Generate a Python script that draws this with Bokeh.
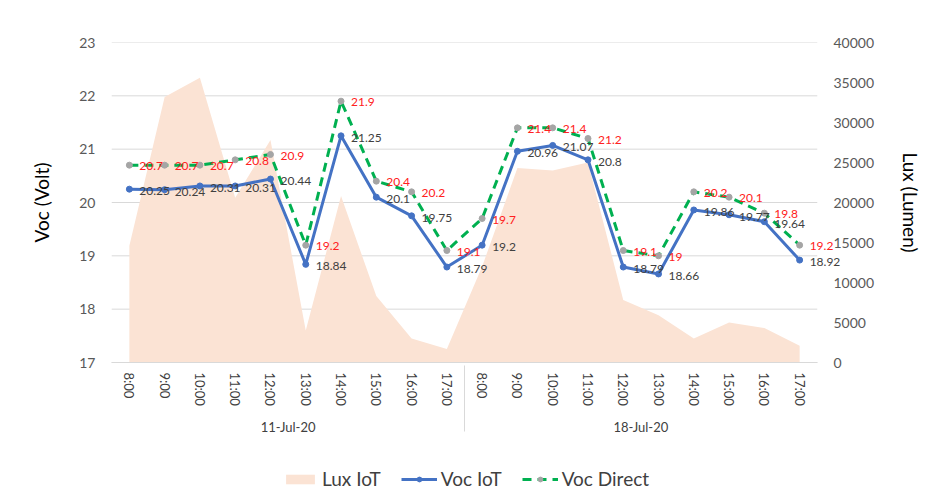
from bokeh.plotting import figure
from bokeh.layouts import column
from bokeh.core.properties import value
from bokeh.models import (FactorRange, Range1d, LinearAxis, Legend, LegendItem,
                          ColumnDataSource, LabelSet, FixedTicker)
from bokeh.embed import file_html
from bokeh.resources import INLINE

dates = ["11-Jul-20", "18-Jul-20"]
hours = ["8:00", "9:00", "10:00", "11:00", "12:00", "13:00", "14:00", "15:00", "16:00", "17:00"]
lux_iot = [14600, 33200, 35600, 20600, 27800, 4000, 20800, 8300, 3000, 1700,
           12000, 24300, 24000, 25000, 7800, 5900, 3000, 5000, 4300, 2100]
voc_iot = [20.25, 20.24, 20.31, 20.31, 20.44, 18.84, 21.25, 20.1, 19.75, 18.79,
           19.2, 20.96, 21.07, 20.8, 18.79, 18.66, 19.86, 19.77, 19.64, 18.92]
voc_direct = [20.7, 20.7, 20.7, 20.8, 20.9, 19.2, 21.9, 20.4, 20.2, 19.1,
              19.7, 21.4, 21.4, 21.2, 19.1, 19.0, 20.2, 20.1, 19.8, 19.2]
left_ticks = [17, 18, 19, 20, 21, 22, 23]
right_ticks = [0, 5000, 10000, 15000, 20000, 25000, 30000, 35000, 40000]

FONT = "Lato"
AREA_C, IOT_C, DIR_C, DIR_M = "#FBE3D4", "#4472C4", "#00B050", "#A5A5A5"
factors = [(d, h) for d in dates for h in hours]
n = len(factors)

src = ColumnDataSource(dict(
    x=factors, lux=lux_iot, iot=voc_iot, direct=voc_direct,
    iot_t=[f"{v:g}" for v in voc_iot], dir_t=[f"{v:g}" for v in voc_direct],
))
# horizontal gridlines spanning only the category band (first to last category edge)
grid_src = ColumnDataSource(dict(
    x0=[factors[0] + (-0.5,)] * len(left_ticks),
    x1=[factors[-1] + (0.5,)] * len(left_ticks),
    y=left_ticks,
))

xr = FactorRange(*factors, group_padding=0, factor_padding=0,
                 range_padding=0.8, range_padding_units="absolute")

# range padding leaves room in the frame for the data labels of the last category
p = figure(frame_width=762, frame_height=320, output_backend="svg", toolbar_location=None,
           x_range=xr, y_range=Range1d(17, 23),
           min_border_left=83, min_border_right=80, min_border_top=42, min_border_bottom=95)
p.extra_y_ranges = {"lux": Range1d(0, 40000)}
p.outline_line_color = None
p.xgrid.grid_line_color = None
p.ygrid.grid_line_color = None

p.segment(x0="x0", y0="y", x1="x1", y1="y", source=grid_src, line_color="#d9d9d9", line_width=1)
p.varea(x="x", y1=0, y2="lux", source=src, y_range_name="lux", fill_color=AREA_C)
p.line("x", "iot", source=src, line_color=IOT_C, line_width=3)
p.scatter("x", "iot", source=src, size=6, color=IOT_C)
p.line("x", "direct", source=src, line_color=DIR_C, line_width=3, line_dash="9 6")
p.scatter("x", "direct", source=src, size=6, color=DIR_M)

p.add_layout(LabelSet(x="x", y="iot", text="iot_t", source=src, x_offset=10, y_offset=-2,
                      text_baseline="middle", text_font=value(FONT), text_font_size="12px",
                      text_color="#404040"))
p.add_layout(LabelSet(x="x", y="direct", text="dir_t", source=src, x_offset=10, y_offset=-1,
                      text_baseline="middle", text_font=value(FONT), text_font_size="12px",
                      text_color="#FF2020"))

# left axis
ya = p.yaxis[0]
ya.ticker = FixedTicker(ticks=left_ticks)
ya.axis_label = "Voc (Volt)"
ya.axis_line_color = None
ya.major_tick_line_color = None
ya.minor_tick_line_color = None
ya.major_tick_out = 0
ya.major_tick_in = 0
ya.major_label_text_font = FONT
ya.major_label_text_font_size = "14px"
ya.major_label_text_color = "#595959"
ya.major_label_standoff = -12
ya.axis_label_text_font = FONT
ya.axis_label_text_font_size = "19px"
ya.axis_label_text_font_style = "normal"
ya.axis_label_text_color = "#000000"
ya.axis_label_standoff = 23

# right axis
ra = LinearAxis(y_range_name="lux", ticker=FixedTicker(ticks=right_ticks), axis_label="Lux (Lumen)")
ra.axis_line_color = None
ra.major_tick_line_color = None
ra.minor_tick_line_color = None
ra.major_tick_out = 0
ra.major_tick_in = 0
ra.major_label_text_font = FONT
ra.major_label_text_font_size = "14px"
ra.major_label_text_color = "#595959"
ra.major_label_standoff = -12
ra.axis_label_text_font = FONT
ra.axis_label_text_font_size = "19px"
ra.axis_label_text_font_style = "normal"
ra.axis_label_text_color = "#000000"
ra.axis_label_standoff = 22
p.add_layout(ra, "right")

# bottom axis
xa = p.xaxis[0]
xa.bounds = (0, n)
xa.major_label_orientation = "vertical"
xa.major_label_text_font = FONT
xa.major_label_text_font_size = "13px"
xa.major_label_text_color = "#404040"
xa.major_label_standoff = 10
xa.major_tick_out = 0
xa.major_tick_in = 0
xa.group_text_font = FONT
xa.group_text_font_size = "13px"
xa.group_text_font_style = "normal"
xa.group_text_color = "#404040"
xa.group_label_orientation = "horizontal"
xa.axis_line_color = "#d9d9d9"
xa.major_tick_line_color = None
xa.separator_line_color = "#d9d9d9"
xa.separator_line_width = 1

# legend strip below the chart: same series drawn out of view, only their legend shows
lg = figure(width=925, height=44, output_backend="svg", toolbar_location=None,
            x_range=xr, y_range=Range1d(1e6, 1e6 + 1), min_border=0,
            x_axis_location=None, y_axis_location=None)
lg.outline_line_color = None
lg.grid.grid_line_color = None
a2 = lg.varea(x="x", y1=0, y2="lux", source=src, fill_color=AREA_C)
m1 = lg.line("x", "iot", source=src, line_color=IOT_C, line_width=3)
m1s = lg.scatter("x", "iot", source=src, size=6, color=IOT_C)
m2 = lg.line("x", "direct", source=src, line_color=DIR_C, line_width=3, line_dash="9 6")
m2s = lg.scatter("x", "direct", source=src, size=6, color=DIR_M)

legend = Legend(items=[
    LegendItem(label="Lux IoT", renderers=[a2]),
    LegendItem(label="Voc IoT", renderers=[m1, m1s]),
    LegendItem(label="Voc Direct", renderers=[m2, m2s]),
], orientation="horizontal", location=(199, 11))
legend.border_line_color = None
legend.background_fill_alpha = 0
legend.label_text_font = FONT
legend.label_text_font_size = "19px"
legend.label_text_color = "#404040"
legend.glyph_width = 36
legend.glyph_height = 12
legend.label_standoff = 4
legend.spacing = 20
legend.padding = 0
legend.margin = 0
lg.add_layout(legend, "center")

layout = column(p, lg, spacing=0)
open("out.html", "w").write(file_html(layout, INLINE))
